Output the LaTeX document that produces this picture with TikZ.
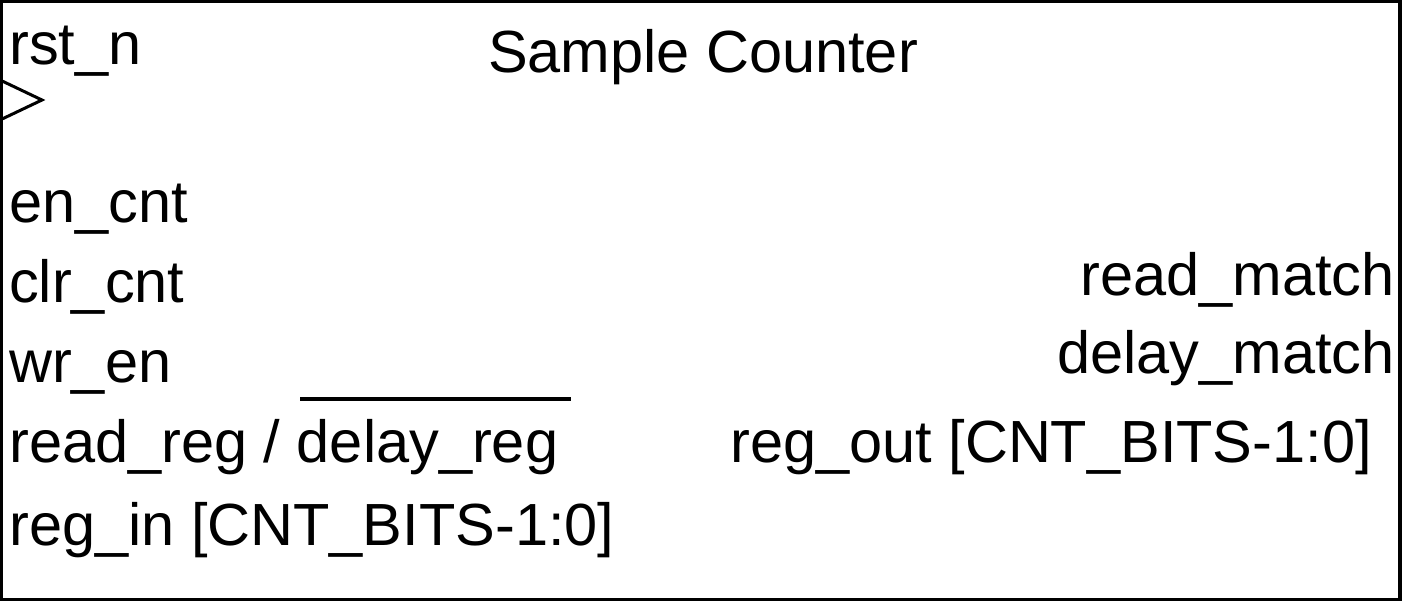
\documentclass[tikz,border=0pt]{standalone}
\usepackage{fontspec}
\setmainfont{Liberation Sans}
\begin{document}
\begin{tikzpicture}[x=1pt,y=-1pt,
  inport/.style={anchor=base west, inner sep=0pt, font=\fontsize{59.5}{72}\selectfont},
  outport/.style={anchor=base east, inner sep=0pt, font=\fontsize{59.5}{72}\selectfont}]
\useasboundingbox (0,0) rectangle (1404,604);
\draw [line width=3.5pt] (1.5,1.5) rectangle (1400,599.5);
\node [anchor=base, inner sep=0pt, font=\fontsize{59.5}{72}\selectfont] (title) at (703,73) {Sample Counter};
\node [inport] (rstn) at (9,65) {rst\_n};
\draw [line width=3pt] (0,80) -- (42,100) -- (0,120);
\node [inport] (encnt) at (9,222) {en\_cnt};
\node [inport] (clrcnt) at (9,302) {clr\_cnt};
\node [inport] (wren) at (9,382) {wr\_en};
\node [inport] (rdreg) at (9,462) {read\_reg / delay\_reg};
\draw [line width=3.5pt] (300,399) -- (571,399);
\node [inport] (regin) at (9,545) {reg\_in [CNT\_BITS-1:0]};
\node [outport] (rdmatch) at (1395,295) {read\_match};
\node [outport] (dlymatch) at (1395,373) {delay\_match};
\node [outport] (regout) at (1372,462) {reg\_out [CNT\_BITS-1:0]};
\end{tikzpicture}
\end{document}
